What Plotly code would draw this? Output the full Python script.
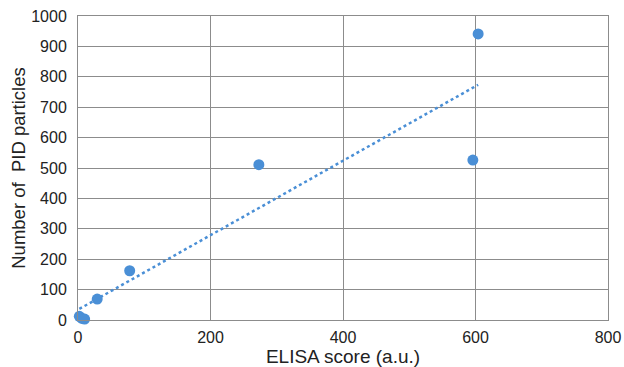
import numpy as np
import plotly.graph_objects as go

elisa = [2, 6, 10, 29, 78, 273, 596, 604]
pid = [12, 5, 3, 69, 162, 511, 526, 941]
x_ticks = [0, 200, 400, 600, 800]
y_ticks = [0, 100, 200, 300, 400, 500, 600, 700, 800, 900, 1000]

blue = "#4a8fd6"
grid = "#8c8c8c"

slope, intercept = np.polyfit(elisa, pid, 1)
tx = np.linspace(min(elisa), max(elisa), 50)
ty = slope * tx + intercept

fig = go.Figure()
fig.add_trace(go.Scatter(x=tx, y=ty, mode="lines",
                         line=dict(color=blue, width=2.5, dash="dot"),
                         hoverinfo="skip", showlegend=False))
fig.add_trace(go.Scatter(x=elisa, y=pid, mode="markers", cliponaxis=False,
                         marker=dict(color=blue, size=11, line=dict(width=0)),
                         showlegend=False))

font = dict(family="Liberation Sans, Arial, sans-serif", color="#222222")
fig.update_layout(
    width=624, height=367,
    margin=dict(l=78, r=16, t=16, b=47),
    paper_bgcolor="white", plot_bgcolor="white",
    font=dict(**font, size=16),
    xaxis=dict(range=[0, 800], tickvals=x_ticks, ticktext=[str(v) for v in x_ticks],
               showgrid=True, gridcolor=grid, gridwidth=1, zeroline=False,
               showline=True, mirror=True, linecolor=grid, linewidth=1,
               ticks="", tickfont=dict(size=16), ticklabelstandoff=3, automargin=False,
               title=dict(text="ELISA score (a.u.)", font=dict(size=19), standoff=6)),
    yaxis=dict(range=[0, 1000], tickvals=y_ticks, ticktext=[str(v) for v in y_ticks],
               showgrid=True, gridcolor=grid, gridwidth=1, zeroline=False,
               showline=True, mirror=True, linecolor=grid, linewidth=1,
               ticks="", tickfont=dict(size=16), ticklabelstandoff=7, automargin=False,
               title=dict(text="Number of  PID particles", font=dict(size=18.5), standoff=0)),
)
fig.write_html("out.html", config={"displayModeBar": False},
               post_script="document.body.style.margin='0';document.body.style.overflow='hidden';")
